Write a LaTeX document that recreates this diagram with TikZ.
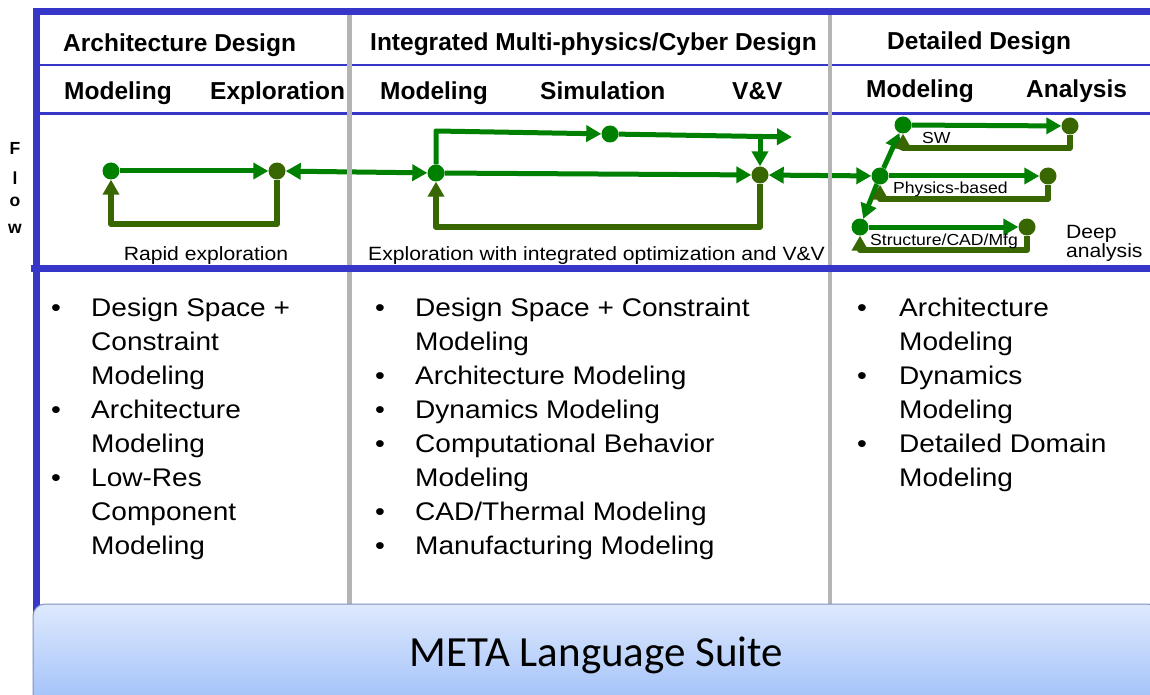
\documentclass[tikz,border=0pt]{standalone}
\usepackage{fontspec}
\setmainfont{Liberation Sans}
\newfontfamily\regfont{Liberation Sans}[FakeStretch=1.1]
\newfontfamily\metafont{Carlito}
\usetikzlibrary{arrows.meta,backgrounds}

\definecolor{frameblue}{RGB}{54,54,200}
\definecolor{divgray}{RGB}{180,180,180}
\definecolor{fwdgreen}{RGB}{0,128,0}
\definecolor{backgreen}{RGB}{56,102,0}
\definecolor{metatop}{RGB}{222,233,253}
\definecolor{metabot}{RGB}{160,192,249}
\definecolor{metaedge}{RGB}{125,145,195}

\pgfdeclarelayer{flow}
\pgfsetlayers{background,flow,main}

\tikzset{
  fwd/.style={draw=fwdgreen, line width=5pt, line join=round},
  back/.style={draw=backgreen, line width=6pt, line join=round},
  dotF/.style={circle, fill=fwdgreen, minimum size=17pt, inner sep=0pt},
  dotB/.style={circle, fill=backgreen, minimum size=17pt, inner sep=0pt},
  rule/.style={draw=frameblue},
  divider/.style={draw=divgray, line width=4.5pt},
  hd/.style={anchor=base west, inner sep=0pt, font=\bfseries\fontsize{24.5}{29}\selectfont},
  bd/.style={anchor=base west, inner sep=0pt, font=\regfont\fontsize{25.5}{30}\selectfont},
  lbl/.style={inner sep=0pt, font=\regfont\fontsize{19.2}{22}\selectfont},
  sml/.style={anchor=base west, inner sep=0pt, font=\regfont\fontsize{16}{19}\selectfont},
  flowletter/.style={anchor=base, inner sep=0pt, font=\bfseries\fontsize{17.5}{20}\selectfont},
  metabox/.style={rounded corners=12pt, minimum width=1127pt, minimum height=102pt,
    top color=metatop, bottom color=metabot, draw=metaedge, line width=1pt,
    inner sep=0pt, font=\metafont\fontsize{43}{50}\selectfont}
}

\begin{document}
\begin{tikzpicture}[x=1pt, y=-1pt, >={Triangle[length=15pt,width=16pt]}]
\useasboundingbox (0,0) rectangle (1150,695);
\clip (0,0) rectangle (1150,695);
\begin{pgfonlayer}{background}
  \fill[white] (0,0) rectangle (1150,695);
\end{pgfonlayer}

% ---- flow nodes ----
\node[dotF] (A) at (111,171) {};
\node[dotB] (B) at (277,171) {};
\node[dotF] (C) at (436,173) {};
\node[dotF] (D) at (610,134) {};
\node[dotB] (E) at (760,175) {};
\node[dotF] (F) at (880,176) {};
\node[dotF] (G) at (903,125) {};
\node[dotF] (H) at (860,227) {};
\node[dotB] (I) at (1070,126) {};
\node[dotB] (J) at (1048,176) {};
\node[dotB] (K) at (1027,227) {};
\coordinate (Vbr) at (760,136.5);
\coordinate (Vout) at (792,137);

% ---- flow connectors ----
\begin{pgfonlayer}{flow}
  \draw[fwd,->] (A) -- (B);
  \draw[back,->] (B.south) -- (B |- 0,224) -| (A.south);
  \draw[fwd,<->] (B) -- (C);
  \draw[fwd,->] (C.north) -- (C |- 0,131) -- (D);
  \draw[fwd,->] (D) -- (Vout);
  \draw[fwd,->] (Vbr) -- (E.north);
  \draw[fwd,->] (C) -- (E);
  \draw[back,->] (E.south) -- (E |- 0,227) -| (C.south);
  \draw[fwd,<->] (E) -- (F);
  \draw[fwd,->] (F) -- (G);
  \draw[fwd,->] (F) -- (H);
  \draw[fwd,->] (G) -- (I);
  \draw[back,->] (I.south) -- (I |- 0,148) -| (G.south);
  \draw[fwd,->] (F) -- (J);
  \draw[back,->] (J.south) -- (J |- 0,199) -| (F.south);
  \draw[fwd,->] (H) -- (K);
  \draw[back,->] (K.south) -- (K |- 0,250) -| (H.south);
\end{pgfonlayer}

% ---- frame rules ----
\draw[rule, line width=7pt] (33,11.5) -- (1150,11.5);
\draw[rule, line width=6.7pt] (36.5,8) -- (36.5,615);
\draw[rule, line width=1.5pt] (40,65) -- (1150,65);
\draw[rule, line width=3.5pt] (40,113.5) -- (1150,113.5);
\draw[divider] (349.5,15) -- (349.5,615);
\draw[divider] (830,15) -- (830,615);
\draw[rule, line width=7pt] (31,268.5) -- (1150,268.5);

% ---- headers ----
\node[hd] (h1) at (63,52) {Architecture Design};
\node[hd] (h2) at (370,51) {Integrated Multi-physics/Cyber Design};
\node[hd] (h3) at (887,50) {Detailed Design};
\node[hd] (s1) at (64,99.5) {Modeling};
\node[hd] (s2) at (210,99.5) {Exploration};
\node[hd] (s3) at (380,99.5) {Modeling};
\node[hd] (s4) at (540,99.5) {Simulation};
\node[hd] (s5) at (732,99.5) {V\&V};
\node[hd] (s6) at (866,97.5) {Modeling};
\node[hd] (s7) at (1026,97.5) {Analysis};

% ---- flow side caption ----
\node[flowletter] (fl1) at (15,155) {F};
\node[flowletter] (fl2) at (15,185) {l};
\node[flowletter] (fl3) at (15,206) {o};
\node[flowletter] (fl4) at (15,233) {w};

% ---- flow labels ----
\node[lbl, anchor=base] (rapid) at (206,260) {Rapid exploration};
\node[lbl, anchor=base west] (integ) at (368,260) {Exploration with integrated optimization and V\&V};
\node[sml] (sw) at (922,143.5) {SW};
\node[sml] (phys) at (893,193.5) {Physics-based};
\node[sml] (struct) at (870,245) {Structure/CAD/Mfg};
\node[lbl, anchor=base west] (deep1) at (1066,238) {Deep};
\node[lbl, anchor=base west] (deep2) at (1066,257) {analysis};

% ---- column bodies ----
\foreach \t [count=\k] in {Design Space +, Constraint, Modeling, Architecture, Modeling,
    Low-Res, Component, Modeling}
  \node[bd] (ca\k) at (91,{316+34*(\k-1)}) {\t};
\foreach \k in {1,4,6}
  \node[bd] (cab\k) at (51,{316+34*(\k-1)}) {•};

\foreach \t [count=\k] in {Design Space + Constraint, Modeling, Architecture Modeling,
    Dynamics Modeling, Computational Behavior, Modeling, CAD/Thermal Modeling,
    Manufacturing Modeling}
  \node[bd] (cb\k) at (415,{316+34*(\k-1)}) {\t};
\foreach \k in {1,3,4,5,7,8}
  \node[bd] (cbb\k) at (375,{316+34*(\k-1)}) {•};

\foreach \t [count=\k] in {Architecture, Modeling, Dynamics, Modeling,
    Detailed Domain, Modeling}
  \node[bd] (cc\k) at (899,{316+34*(\k-1)}) {\t};
\foreach \k in {1,3,5}
  \node[bd] (ccb\k) at (857,{316+34*(\k-1)}) {•};

% ---- language suite bar ----
\node[metabox] (meta) at (596.5,655) {META Language Suite};
\end{tikzpicture}
\end{document}
